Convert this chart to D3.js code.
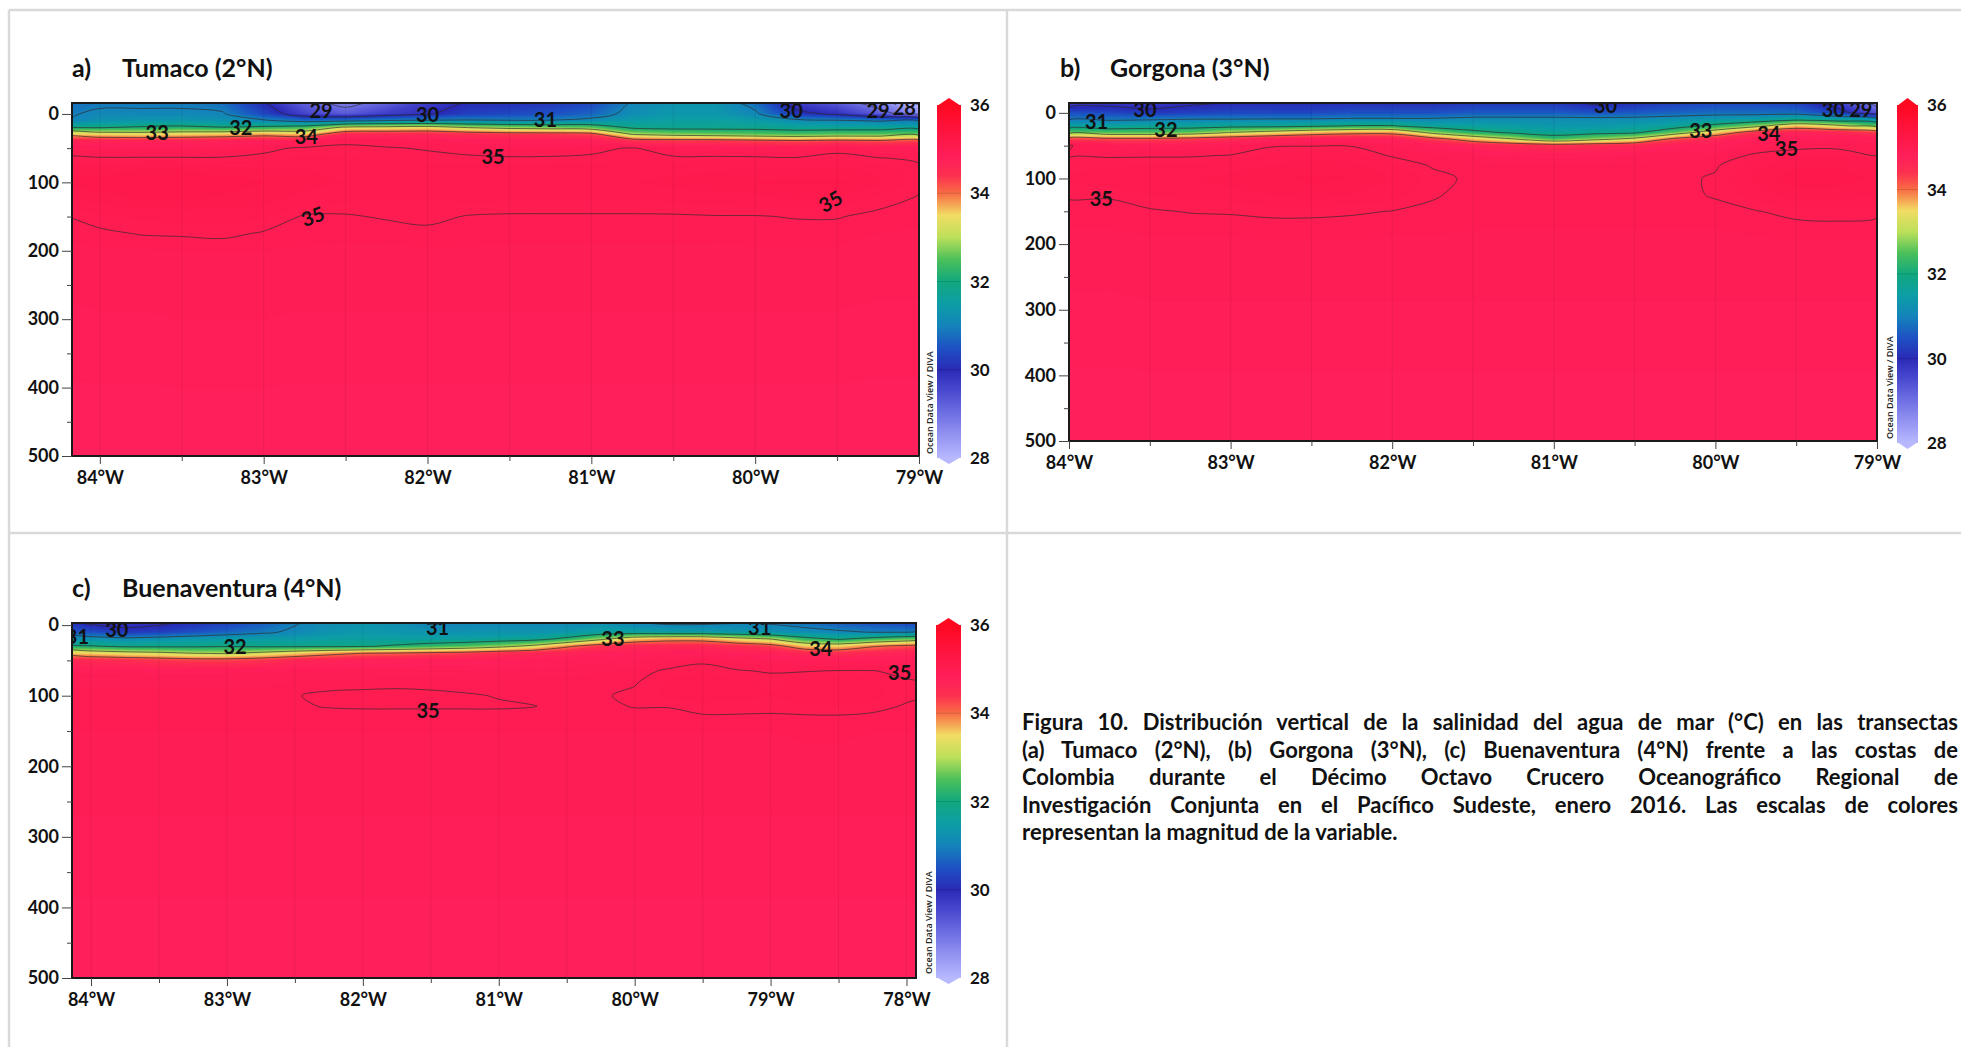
<!DOCTYPE html>
<html>
<head>
<meta charset="utf-8">
<script src="https://cdn.jsdelivr.net/npm/d3@7/dist/d3.min.js"></script>
<style>
  body { margin: 0; background: #fff; }
  #chart { position: absolute; left: 0; top: 0; }
  .caption { position: absolute; left: 1022px; top: 708px; width: 936px;
    font-family: Lato, "Open Sans", sans-serif; font-weight: 700; font-size: 22px;
    line-height: 27.5px; color: #111; }
  .caption div { text-align: justify; text-align-last: justify; }
  .caption div.last { text-align-last: left; }
</style>
</head>
<body>
<svg id="chart" width="1961" height="1047"></svg>
<script>
// ---- axes / scale values ----
const depthTicks = [0, 100, 200, 300, 400, 500];
const depthMinor = [50, 150, 250, 350, 450];
const lonTicksAB = [84, 83, 82, 81, 80, 79];
const lonTicksC = [84, 83, 82, 81, 80, 79, 78];
const scaleTicks = [28, 30, 32, 34, 36];
const isolines = [28, 29, 30, 31, 32, 33, 34, 35];

// ODV-like palette (salinity -> colour)
const paletteStops = [28, 29, 29.6, 30, 30.5, 31, 31.5, 32, 32.5, 33, 33.5, 34, 34.4, 34.8, 35.2, 35.6, 36];
const paletteColors = ["#b8b8ff", "#7070e4", "#4444cc", "#2a2ab6", "#1e52c4", "#1484ba", "#0c9ea6", "#12a87e",
  "#4cc05a", "#bce05a", "#f2dc64", "#f86c44", "#fd3050", "#ff1f5a", "#ff1848", "#ff1035", "#ff0820"];

// ---- a) Tumaco: one profile per longitude (°W), values at depthA (m) ----
const lonA = [84.25, 84, 83.75, 83.5, 83.25, 83, 82.75, 82.5, 82.25, 82, 81.75, 81.5, 81.25, 81, 80.75, 80.5, 80.25, 80, 79.75, 79.5, 79.25, 79];
const depthA = [-16, 0, 10, 20, 30, 40, 50, 65, 80, 100, 125, 150, 175, 200, 500];
const salA = [
  [30.8, 30.9, 30.95, 32.02, 33.6, 34.75, 34.92, 35.02, 35.12, 35.15, 35.08, 34.99, 34.96, 34.93, 34.8],
  [30.9, 31.1, 31.3, 31.98, 33.5, 34.7, 34.92, 35.01, 35.12, 35.18, 35.12, 35.04, 34.98, 34.94, 34.8],
  [30.9, 31.1, 31.4, 32.1, 33.4, 34.7, 34.92, 35.01, 35.14, 35.2, 35.15, 35.06, 35.005, 34.94, 34.8],
  [30.9, 31.1, 31.4, 32.2, 33.5, 34.7, 34.92, 35.01, 35.14, 35.2, 35.15, 35.07, 35.01, 34.95, 34.8],
  [30.8, 31.05, 31.3, 32.05, 33.6, 34.75, 34.93, 35.01, 35.12, 35.18, 35.14, 35.07, 35.02, 34.95, 34.8],
  [30.05, 30.4, 31.1, 32.2, 33.8, 34.8, 34.97, 35.03, 35.1, 35.15, 35.12, 35.06, 34.99, 34.95, 34.8],
  [29.2, 29.6, 30.8, 32.4, 33.6, 34.85, 35.02, 35.06, 35.1, 35.12, 35.08, 34.99, 34.97, 34.94, 34.8],
  [28.8, 29.3, 30.9, 33.2, 34.6, 34.98, 35.02, 35.05, 35.08, 35.1, 35.06, 34.99, 34.96, 34.94, 34.8],
  [29.2, 29.7, 31.05, 33.3, 34.6, 34.95, 35.01, 35.04, 35.08, 35.1, 35.05, 35.01, 34.96, 34.94, 34.8],
  [29.7, 29.95, 31.1, 33.4, 34.6, 34.93, 34.99, 35.03, 35.07, 35.1, 35.05, 35.02, 34.98, 34.94, 34.8],
  [30.05, 30.3, 31.1, 33.0, 34.5, 34.85, 34.96, 35.02, 35.07, 35.1, 35.06, 34.995, 34.97, 34.94, 34.8],
  [30.1, 30.4, 31.05, 32.8, 34.4, 34.82, 34.95, 35.01, 35.07, 35.1, 35.05, 34.99, 34.96, 34.94, 34.8],
  [30.2, 30.5, 31.05, 32.7, 34.4, 34.82, 34.96, 35.01, 35.07, 35.1, 35.05, 34.99, 34.96, 34.94, 34.8],
  [30.4, 30.7, 31.2, 32.6, 34.3, 34.8, 34.97, 35.02, 35.07, 35.1, 35.05, 34.99, 34.96, 34.94, 34.8],
  [31.05, 31.2, 31.5, 31.9, 33.0, 34.5, 35.01, 35.04, 35.08, 35.1, 35.05, 34.99, 34.96, 34.94, 34.8],
  [31.3, 31.4, 31.6, 31.8, 32.8, 34.4, 34.93, 35.02, 35.08, 35.12, 35.06, 34.99, 34.96, 34.94, 34.8],
  [31.3, 31.4, 31.6, 31.8, 32.7, 34.4, 34.92, 35.02, 35.09, 35.13, 35.07, 34.995, 34.96, 34.94, 34.8],
  [30.8, 31.1, 31.5, 31.8, 32.6, 34.3, 34.9, 35.02, 35.1, 35.15, 35.08, 34.995, 34.97, 34.94, 34.8],
  [29.7, 30.2, 31.2, 31.7, 32.5, 34.2, 34.9, 35.01, 35.1, 35.16, 35.1, 35.005, 34.97, 34.94, 34.8],
  [29.3, 29.9, 31.1, 31.7, 32.6, 34.3, 34.97, 35.03, 35.12, 35.16, 35.08, 35.005, 34.97, 34.94, 34.8],
  [28.7, 29.3, 30.95, 31.7, 32.6, 34.2, 34.88, 35.01, 35.08, 35.12, 35.03, 34.98, 34.95, 34.93, 34.8],
  [27.8, 28.6, 30.9, 31.7, 32.7, 34.3, 34.88, 34.98, 35.02, 35.02, 34.99, 34.96, 34.94, 34.93, 34.8]
];
// contour labels: [lon, depth, text, angle]
const labelsA = [
  [83.65, 28, "33", 0], [83.14, 20, "32", 0], [82.74, 34, "34", 0], [82.65, -5, "29", 0],
  [82.0, 1, "30", 0], [81.28, 8, "31", 0], [81.6, 62, "35", 0], [82.7, 150, "35", -20],
  [79.54, 128, "35", -30], [79.78, -5, "30", 0], [79.25, -5, "29", 0], [79.09, -9, "28", 0]
];

// ---- b) Gorgona ----
const lonB = [84, 83.75, 83.5, 83.25, 83, 82.75, 82.5, 82.25, 82, 81.75, 81.5, 81.25, 81, 80.75, 80.5, 80.25, 80, 79.75, 79.5, 79.25, 79];
const depthB = [-15, 0, 10, 20, 30, 40, 50, 65, 80, 100, 125, 150, 175, 200, 500];
const salB = [
  [29.6, 30.5, 30.9, 31.6, 32.6, 34.3, 35.01, 34.99, 35.03, 35.06, 35.01, 34.97, 34.95, 34.93, 34.8],
  [29.8, 30.4, 30.9, 31.6, 32.5, 34.2, 34.9, 34.99, 35.04, 35.08, 35.01, 34.97, 34.95, 34.93, 34.8],
  [29.7, 30.2, 30.95, 31.7, 32.5, 34.2, 34.88, 34.99, 35.05, 35.1, 35.05, 34.99, 34.96, 34.94, 34.8],
  [29.9, 30.3, 31.02, 31.7, 32.6, 34.3, 34.9, 34.99, 35.06, 35.1, 35.06, 35.005, 34.96, 34.94, 34.8],
  [30.02, 30.4, 31.03, 31.8, 33.02, 34.5, 34.93, 35.005, 35.07, 35.12, 35.08, 35.01, 34.96, 34.94, 34.8],
  [30.05, 30.4, 31.05, 31.8, 33.3, 34.7, 34.99, 35.06, 35.1, 35.14, 35.1, 35.02, 34.97, 34.94, 34.8],
  [30.05, 30.4, 31.05, 31.9, 33.6, 34.8, 34.995, 35.08, 35.13, 35.16, 35.12, 35.02, 34.97, 34.94, 34.8],
  [30.1, 30.5, 31.1, 32.05, 33.8, 34.8, 34.995, 35.06, 35.12, 35.15, 35.1, 35.01, 34.97, 34.94, 34.8],
  [30.1, 30.5, 31.1, 32.05, 33.8, 34.75, 34.93, 34.99, 35.06, 35.1, 35.07, 34.998, 34.96, 34.94, 34.8],
  [30.1, 30.5, 31.1, 31.7, 32.8, 34.3, 34.85, 34.95, 34.99, 35.03, 35.01, 34.98, 34.96, 34.94, 34.8],
  [30.2, 30.6, 31.2, 31.6, 32.2, 33.6, 34.7, 34.9, 34.96, 34.98, 34.97, 34.96, 34.95, 34.94, 34.8],
  [30.2, 30.6, 31.2, 31.5, 31.9, 33.03, 34.55, 34.88, 34.95, 34.97, 34.97, 34.96, 34.95, 34.94, 34.8],
  [30.2, 30.6, 31.2, 31.4, 31.7, 32.4, 34.4, 34.87, 34.95, 34.97, 34.97, 34.96, 34.95, 34.94, 34.8],
  [29.9, 30.5, 31.2, 31.4, 31.8, 32.8, 34.5, 34.88, 34.95, 34.97, 34.97, 34.96, 34.95, 34.94, 34.8],
  [30.1, 30.6, 31.2, 31.5, 31.9, 33.2, 34.6, 34.9, 34.96, 34.97, 34.97, 34.96, 34.95, 34.94, 34.8],
  [30.3, 30.7, 31.3, 31.7, 32.6, 34.2, 34.8, 34.92, 34.96, 34.98, 34.97, 34.96, 34.95, 34.94, 34.8],
  [30.4, 30.8, 31.4, 32.2, 33.5, 34.6, 34.85, 34.94, 34.99, 35.01, 35.01, 34.97, 34.95, 34.94, 34.8],
  [30.4, 30.8, 31.5, 32.8, 34.4, 34.8, 34.93, 35.02, 35.08, 35.12, 35.08, 34.995, 34.96, 34.94, 34.8],
  [30.3, 30.8, 31.8, 33.6, 34.7, 34.88, 34.96, 35.06, 35.14, 35.18, 35.12, 35.03, 34.97, 34.94, 34.8],
  [29.7, 30.3, 31.6, 33.2, 34.6, 34.88, 34.97, 35.06, 35.14, 35.18, 35.12, 35.03, 34.98, 34.94, 34.8],
  [28.7, 29.4, 31.3, 32.6, 34.3, 34.85, 34.95, 34.99, 35.1, 35.14, 35.1, 35.02, 34.97, 34.94, 34.8]
];
const labelsB = [
  [83.53, -5, "30", 0], [83.83, 14, "31", 0], [83.4, 26, "32", 0], [80.68, -11, "30", 0],
  [79.27, -5, "30", 0], [79.1, -5, "29", 0], [80.09, 27, "33", 0], [79.67, 32, "34", 0],
  [79.56, 55, "35", 0], [83.8, 131, "35", 0]
];

// ---- c) Buenaventura ----
const lonC = [84.25, 84, 83.75, 83.5, 83.25, 83, 82.75, 82.5, 82.25, 82, 81.75, 81.5, 81.25, 81, 80.75, 80.5, 80.25, 80, 79.75, 79.5, 79.25, 79, 78.75, 78.5, 78.25, 78, 77.75];
const depthC = [-3, 10, 20, 30, 40, 50, 65, 80, 100, 115, 130, 150, 200, 500];
const salC = [
  [30.2, 30.7, 31.3, 32.05, 33.6, 34.6, 34.88, 34.94, 34.96, 34.96, 34.96, 34.95, 34.93, 34.8],
  [29.9, 30.5, 31.3, 32.05, 33.5, 34.55, 34.88, 34.94, 34.96, 34.96, 34.96, 34.95, 34.93, 34.8],
  [29.8, 30.2, 31.2, 31.9, 33.3, 34.5, 34.88, 34.94, 34.96, 34.96, 34.96, 34.95, 34.93, 34.8],
  [29.9, 30.3, 31.3, 31.9, 33.2, 34.4, 34.87, 34.94, 34.96, 34.96, 34.96, 34.95, 34.93, 34.8],
  [30.1, 30.5, 31.4, 31.9, 33.02, 34.3, 34.87, 34.94, 34.96, 34.96, 34.96, 34.95, 34.93, 34.8],
  [30.3, 30.7, 31.5, 31.97, 32.95, 34.3, 34.87, 34.94, 34.96, 34.96, 34.96, 34.95, 34.93, 34.8],
  [30.6, 30.9, 31.5, 31.9, 33.2, 34.4, 34.88, 34.94, 34.96, 34.96, 34.96, 34.95, 34.93, 34.8],
  [30.95, 31.1, 31.5, 31.9, 33.5, 34.6, 34.9, 34.95, 34.995, 34.99, 34.96, 34.95, 34.93, 34.8],
  [31.2, 31.3, 31.6, 31.9, 33.8, 34.7, 34.9, 34.96, 35.02, 35.005, 34.97, 34.95, 34.93, 34.8],
  [31.3, 31.4, 31.6, 31.95, 34.02, 34.75, 34.9, 34.96, 35.03, 35.01, 34.97, 34.95, 34.93, 34.8],
  [31.2, 31.35, 31.6, 32.1, 34.1, 34.75, 34.9, 34.97, 35.03, 35.01, 34.97, 34.95, 34.93, 34.8],
  [30.95, 31.3, 31.6, 32.3, 34.2, 34.8, 34.9, 34.97, 35.02, 35.01, 34.97, 34.95, 34.93, 34.8],
  [31.02, 31.3, 31.6, 32.5, 34.3, 34.8, 34.9, 34.96, 35.01, 35.01, 34.97, 34.95, 34.93, 34.8],
  [31.1, 31.3, 31.7, 32.8, 34.5, 34.82, 34.9, 34.96, 34.995, 35.01, 34.97, 34.95, 34.93, 34.8],
  [31.1, 31.3, 31.8, 33.2, 34.6, 34.85, 34.91, 34.96, 34.98, 35.003, 34.97, 34.95, 34.93, 34.8],
  [31.1, 31.4, 32.2, 33.9, 34.7, 34.85, 34.92, 34.96, 34.98, 34.98, 34.97, 34.95, 34.93, 34.8],
  [31.2, 31.6, 32.9, 34.4, 34.8, 34.88, 34.94, 34.97, 34.99, 34.98, 34.97, 34.95, 34.93, 34.8],
  [31.03, 31.6, 33.6, 34.6, 34.82, 34.9, 34.96, 34.99, 35.02, 35.005, 34.97, 34.95, 34.93, 34.8],
  [30.9, 31.5, 33.8, 34.6, 34.85, 34.93, 35.02, 35.06, 35.06, 35.005, 34.97, 34.95, 34.93, 34.8],
  [30.9, 31.5, 33.8, 34.6, 34.85, 34.98, 35.04, 35.08, 35.07, 35.03, 34.99, 34.95, 34.93, 34.8],
  [30.98, 31.4, 33.4, 34.5, 34.8, 34.93, 35.01, 35.06, 35.06, 35.03, 34.99, 34.95, 34.93, 34.8],
  [30.95, 31.3, 33.05, 34.3, 34.75, 34.9, 34.99, 35.04, 35.05, 35.02, 34.99, 34.95, 34.93, 34.8],
  [30.8, 31.2, 32.3, 33.6, 34.6, 34.88, 34.995, 35.06, 35.07, 35.04, 34.99, 34.96, 34.93, 34.8],
  [30.6, 31.1, 31.95, 33.5, 34.5, 34.87, 35.005, 35.07, 35.08, 35.05, 34.99, 34.96, 34.93, 34.8],
  [30.5, 30.98, 32.3, 33.95, 34.6, 34.88, 35.005, 35.06, 35.07, 35.03, 34.98, 34.95, 34.93, 34.8],
  [30.4, 30.98, 32.6, 34.2, 34.7, 34.88, 34.97, 35.01, 35.02, 34.99, 34.97, 34.95, 34.93, 34.8],
  [30.4, 30.98, 32.6, 34.2, 34.7, 34.88, 34.95, 34.98, 34.98, 34.97, 34.96, 34.95, 34.93, 34.8]
];
const labelsC = [
  [84.1, 16, "31", 0], [83.81, 6, "30", 0], [81.45, 4, "31", 0], [79.08, 4, "31", 0],
  [82.94, 31, "32", 0], [80.16, 20, "33", 0], [78.63, 34, "34", 0], [78.05, 68, "35", 0],
  [81.52, 122, "35", 0]
];

const captionLines = [
  "Figura 10. Distribución vertical de la salinidad del agua de mar (°C) en las transectas",
  "(a) Tumaco (2°N), (b) Gorgona (3°N), (c) Buenaventura (4°N) frente a las costas de",
  "Colombia durante el Décimo Octavo Crucero Oceanográfico Regional de",
  "Investigación Conjunta en el Pacífico Sudeste, enero 2016. Las escalas de colores",
  "representan la magnitud de la variable."
];

const FONT = "Lato, 'Open Sans', sans-serif";
const color = d3.scaleLinear().domain(paletteStops).range(paletteColors).clamp(true);
const svg = d3.select("#chart");
const defs = svg.append("defs");

// light grey page frame / dividers
const frame = svg.append("g").attr("stroke", "#d9d9d9").attr("stroke-width", 2.5);
frame.append("line").attr("x1", 9).attr("y1", 10).attr("x2", 9).attr("y2", 1047);
frame.append("line").attr("x1", 9).attr("y1", 10).attr("x2", 1961).attr("y2", 10);
frame.append("line").attr("x1", 1007).attr("y1", 10).attr("x2", 1007).attr("y2", 1047);
frame.append("line").attr("x1", 9).attr("y1", 533).attr("x2", 1961).attr("y2", 533);

const panels = [
  { id: "a", lons: lonA, depths: depthA, sal: salA, labels: labelsA, lonDomain: [84.17, 79], ticks: lonTicksAB,
    left: 72, top: 103, width: 847, height: 353, cbX: 937, cbW: 24, cbTop: 105, cbBot: 458,
    tag: "a)", name: "Tumaco (2°N)", titleX: 72, titleY: 77 },
  { id: "b", lons: lonB, depths: depthB, sal: salB, labels: labelsB, lonDomain: [84, 79], ticks: lonTicksAB,
    left: 1069, top: 103, width: 808, height: 338, cbX: 1897, cbW: 21, cbTop: 105, cbBot: 443,
    tag: "b)", name: "Gorgona (3°N)", titleX: 1060, titleY: 77 },
  { id: "c", lons: lonC, depths: depthC, sal: salC, labels: labelsC, lonDomain: [84.14, 77.93], ticks: lonTicksC,
    left: 72, top: 623, width: 844, height: 355, cbX: 936, cbW: 25, cbTop: 625, cbBot: 978,
    tag: "c)", name: "Buenaventura (4°N)", titleX: 72, titleY: 597 }
];

panels.forEach(drawPanel);

function drawPanel(p) {
  const g = svg.append("g");
  const x = d3.scaleLinear().domain(p.lonDomain).range([p.left, p.left + p.width]);
  const y = d3.scaleLinear().domain([p.depths[0], 500]).range([p.top, p.top + p.height]);

  // grid (row-major) for d3.contours
  const n = p.lons.length, m = p.depths.length;
  const values = new Array(n * m);
  for (let j = 0; j < m; j++) for (let i = 0; i < n; i++) values[j * n + i] = p.sal[i][j];
  const iLon = d3.scaleLinear().domain(d3.range(n)).range(p.lons).clamp(true);
  const iDep = d3.scaleLinear().domain(d3.range(m)).range(p.depths).clamp(true);
  const toPx = ([px, py]) => [x(iLon(px - 0.5)), y(iDep(py - 0.5))];
  const path = d3.geoPath(d3.geoTransform({
    point(px, py) { const q = toPx([px, py]); this.stream.point(q[0], q[1]); }
  }));
  // smoothed outline for the isolines
  const smooth = d3.line().curve(d3.curveCatmullRomClosed.alpha(0.5));
  const isoPath = geom => geom.coordinates
    .map(poly => poly.map(ring => smooth(ring.slice(0, -1).map(toPx))).join(""))
    .join("");

  defs.append("clipPath").attr("id", "clip-" + p.id)
    .append("rect").attr("x", p.left).attr("y", p.top).attr("width", p.width).attr("height", p.height);

  const field = g.append("g").attr("clip-path", `url(#clip-${p.id})`);

  // filled colour field
  const fine = d3.range(27.5, 36.01, 0.05);
  field.selectAll("path.band")
    .data(d3.contours().size([n, m]).thresholds(fine)(values))
    .join("path")
    .attr("class", "band")
    .attr("d", path)
    .attr("fill", d => color(d.value))
    .attr("stroke", d => color(d.value))
    .attr("stroke-width", 0.3);

  // faint station lines every half degree
  field.selectAll("line.st")
    .data(d3.range(84, 77.9, -0.5).filter(v => v < p.lonDomain[0] && v > p.lonDomain[1]))
    .join("line")
    .attr("x1", d => x(d)).attr("x2", d => x(d))
    .attr("y1", p.top).attr("y2", p.top + p.height)
    .attr("stroke", "rgba(0,0,0,0.07)").attr("stroke-width", 1);

  // isolines
  field.selectAll("path.iso")
    .data(d3.contours().size([n, m]).thresholds(isolines)(values))
    .join("path")
    .attr("class", "iso")
    .attr("d", isoPath)
    .attr("fill", "none")
    .attr("stroke", "#2b2b2b")
    .attr("stroke-opacity", 0.75)
    .attr("stroke-width", 0.9);

  // contour labels
  field.selectAll("text.lab")
    .data(p.labels)
    .join("text")
    .attr("class", "lab")
    .attr("transform", d => `translate(${x(d[0])},${y(d[1])}) rotate(${d[3]})`)
    .attr("text-anchor", "middle")
    .attr("dy", "0.36em")
    .style("font-family", FONT).style("font-weight", 700).style("font-size", "20px")
    .attr("fill", "#111")
    .text(d => d[2]);

  // frame
  g.append("rect")
    .attr("x", p.left).attr("y", p.top).attr("width", p.width).attr("height", p.height)
    .attr("fill", "none").attr("stroke", "#1a1a1a").attr("stroke-width", 2);

  // y axis
  const yAxis = g.append("g").attr("transform", `translate(${p.left},0)`)
    .call(d3.axisLeft(y).tickValues(depthTicks).tickSize(10).tickPadding(3));
  g.append("g").attr("transform", `translate(${p.left},0)`)
    .call(d3.axisLeft(y).tickValues(depthMinor).tickSize(5).tickFormat(""));

  // x axis
  const xAxis = g.append("g").attr("transform", `translate(0,${p.top + p.height})`)
    .call(d3.axisBottom(x).tickValues(p.ticks).tickSize(8).tickPadding(7).tickFormat(d => d + "°W"));
  g.append("g").attr("transform", `translate(0,${p.top + p.height})`)
    .call(d3.axisBottom(x).tickValues(p.ticks.map(t => t - 0.5).filter(v => v > p.lonDomain[1])).tickSize(5).tickFormat(""));

  g.selectAll(".domain").remove();
  g.selectAll(".tick line").attr("stroke", "#444");
  [yAxis, xAxis].forEach(a => a.selectAll("text")
    .style("font-family", FONT).style("font-weight", 700).style("font-size", "18px").attr("fill", "#111"));

  // colour bar
  const gradId = "grad-" + p.id;
  defs.append("linearGradient").attr("id", gradId)
    .attr("x1", 0).attr("y1", 1).attr("x2", 0).attr("y2", 0)
    .selectAll("stop")
    .data(d3.range(28, 36.001, 0.1))
    .join("stop")
    .attr("offset", d => (d - 28) / 8)
    .attr("stop-color", d => color(d));

  const cb = d3.scaleLinear().domain([28, 36]).range([p.cbBot, p.cbTop]);
  const cx = p.cbX, cw = p.cbW;
  g.append("rect").attr("x", cx).attr("y", cb(36)).attr("width", cw).attr("height", cb(28) - cb(36))
    .attr("fill", `url(#${gradId})`);
  g.append("path")
    .attr("d", `M${cx},${cb(36) + 1}L${cx + cw / 2},${cb(36) - 7}L${cx + cw},${cb(36) + 1}Z`)
    .attr("fill", color(36));
  g.append("path")
    .attr("d", `M${cx},${cb(28) - 1}L${cx + cw / 2},${cb(28) + 6}L${cx + cw},${cb(28) - 1}Z`)
    .attr("fill", color(28));
  g.selectAll("line.cbt")
    .data(scaleTicks.slice(1, -1))
    .join("line")
    .attr("x1", cx).attr("x2", cx + cw)
    .attr("y1", d => cb(d)).attr("y2", d => cb(d))
    .attr("stroke", "rgba(0,0,0,0.12)");
  g.selectAll("text.cbl")
    .data(scaleTicks)
    .join("text")
    .attr("x", cx + cw + 9)
    .attr("y", d => cb(d))
    .attr("dy", "0.36em")
    .style("font-family", FONT).style("font-weight", 700).style("font-size", "17px")
    .attr("fill", "#111")
    .text(d => d);

  g.append("text")
    .attr("transform", `translate(${cx - 4},${cb(28) - 4}) rotate(-90)`)
    .style("font-family", "'Open Sans', sans-serif").style("font-weight", 600).style("font-size", "9px")
    .attr("fill", "#222")
    .text("Ocean Data View / DIVA");

  // title
  const t = g.append("text").attr("y", p.titleY)
    .style("font-family", FONT).style("font-weight", 700).style("font-size", "25px").attr("fill", "#111");
  t.append("tspan").attr("x", p.titleX).text(p.tag);
  t.append("tspan").attr("x", p.titleX + 50).text(p.name);
}

// caption
d3.select("body").append("div").attr("class", "caption")
  .selectAll("div")
  .data(captionLines)
  .join("div")
  .attr("class", (d, i) => i === captionLines.length - 1 ? "last" : null)
  .text(d => d);
</script>
</body>
</html>
